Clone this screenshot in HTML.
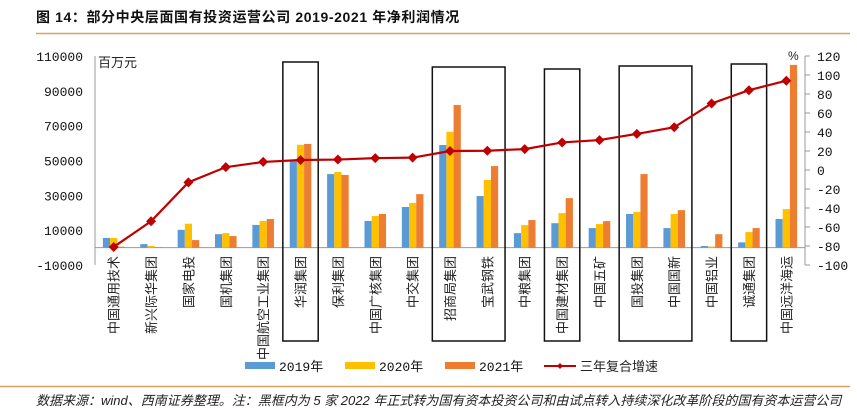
<!DOCTYPE html>
<html><head><meta charset="utf-8"><style>
body{margin:0;background:#fff;}
svg{display:block;font-family:"Liberation Mono","Noto Sans CJK SC",monospace;}
.cjk{font-family:"Liberation Sans","Noto Sans CJK SC",sans-serif;}
</style></head><body>
<svg id="chart" width="857" height="414" viewBox="0 0 857 414" xmlns="http://www.w3.org/2000/svg">
<text x="36" y="22" font-size="14" font-weight="bold" class="cjk" fill="#111" letter-spacing="0.6">图 14：部分中央层面国有投资运营公司 2019-2021 年净利润情况</text>
<line x1="36" y1="33.5" x2="850" y2="33.5" stroke="#d9a35f" stroke-width="1.5"/>
<line x1="0" y1="386.5" x2="850" y2="386.5" stroke="#d9a35f" stroke-width="1.5"/>
<text x="36" y="405" font-size="13" font-style="italic" class="cjk" fill="#222">数据来源：wind、西南证券整理。注：黑框内为 5 家 2022 年正式转为国有资本投资公司和由试点转入持续深化改革阶段的国有资本运营公司</text>
<g id="axes"></g>
<g id="bars"></g>
<g id="boxes"></g>
<g id="line"></g>
<g id="legend"></g>
</svg>
<script>
const categories=["中国通用技术","新兴际华集团","国家电投","国机集团","中国航空工业集团","华润集团","保利集团","中国广核集团","中交集团","招商局集团","宝武钢铁","中粮集团","中国建材集团","中国五矿","国投集团","中国国新","中国铝业","诚通集团","中国远洋海运"];
const profit2019=[5500,2000,10200,7700,13000,50300,42200,15300,23300,58900,29600,8300,14000,11200,19300,11200,900,3000,16400];
const profit2020=[5500,1000,13700,8300,15300,59000,43400,18100,25600,66500,38800,12900,19800,13500,20400,19300,600,8900,22100];
const profit2021=[500,200,4300,6600,16400,59500,41700,19300,30700,81900,46800,15800,28400,15200,42200,21500,7700,11200,104900];
const cagr=[-81,-54,-13,3,8.5,10.5,11,12.5,13,20,20.3,22,29,31.5,38,45,70,84,94];
const leftTicks=[110000,90000,70000,50000,30000,10000,-10000];
const rightTicks=[120,100,80,60,40,20,0,-20,-40,-60,-80,-100];
const boxedGroups=[[5,5],[9,10],[12,12],[14,15],[17,17]];
const boxTops=[62,67,69,66,64];

const NS="http://www.w3.org/2000/svg";
const X0=95,X1=805,Ytop=56,Ybot=265;
const bw=(X1-X0)/categories.length;
function xc(i){return X0+bw*(i+0.5);}
function yL(v){return Ybot-(v+10000)/120000*(Ybot-Ytop);}
function yR(v){return Ybot-(v+100)/220*(Ybot-Ytop);}
function mk(tag,attrs,parent){const e=document.createElementNS(NS,tag);for(const k in attrs)e.setAttribute(k,attrs[k]);parent.appendChild(e);return e;}
const axes=document.getElementById('axes');
let e;
e=mk('line',{x1:X0,y1:Ytop,x2:X0,y2:Ybot,stroke:'#999'},axes);


e=mk('line',{x1:X1,y1:Ytop,x2:X1,y2:Ybot,stroke:'#999'},axes);


e=mk('line',{x1:X0,y1:yL(0),x2:X1,y2:yL(0),stroke:'#999'},axes);


leftTicks.forEach(t=>{
  const tx=mk('text',{x:83,y:yL(t)+5,'font-size':13,'text-anchor':'end',fill:'#111'},axes);
  tx.textContent=t;
  
  
});
rightTicks.forEach(t=>{
  const l=mk('line',{x1:X1,y1:yR(t),x2:X1+5,y2:yR(t),stroke:'#999'},axes);
  
  
  const tx=mk('text',{x:817,y:yR(t)+5,'font-size':13,fill:'#111'},axes);
  tx.textContent=t;
  
  
});
e=mk('text',{x:98,y:67,'font-size':13,fill:'#222',class:'cjk'},axes);
e.textContent='百万元';


e=mk('text',{x:788,y:60,'font-size':12,fill:'#222',class:'cjk'},axes);
e.textContent='%';


categories.forEach((c,i)=>{
  const tx=mk('text',{x:0,y:0,'font-size':13,'text-anchor':'end',fill:'#222',class:'cjk',transform:`translate(${xc(i)+5},256) rotate(-90)`},axes);
  tx.textContent=c;
  
  
});
const bars=document.getElementById('bars');
const series=[[profit2019,'#5b9bd5'],[profit2020,'#ffc000'],[profit2021,'#ed7d31']];
series.forEach((s,si)=>{
  s[0].forEach((v,i)=>{
    const w=7.2, x=xc(i)-w*1.5+si*w;
    const y0=yL(0), y1=yL(v);
    const r=mk('rect',{x:x,y:Math.min(y0,y1),width:w,height:Math.abs(y1-y0),fill:s[1]},bars);
    
    
  });
});
const boxes=document.getElementById('boxes');
boxedGroups.forEach((g,k)=>{
  const x=X0+bw*g[0]+1, w=bw*(g[1]-g[0]+1)-2;
  const r=mk('rect',{x:x,y:boxTops[k],width:w,height:341-boxTops[k],fill:'none',stroke:'#111','stroke-width':1.5},boxes);
  
  
});
const lg=document.getElementById('line');
const pl=mk('polyline',{points:cagr.map((v,i)=>xc(i)+','+yR(v)).join(' '),fill:'none',stroke:'#c00000','stroke-width':2.2},lg);


cagr.forEach((v,i)=>{
  const x=xc(i),y=yR(v);
  const d=mk('polygon',{points:`${x},${y-5} ${x+5},${y} ${x},${y+5} ${x-5},${y}`,fill:'#c00000'},lg);
  
  
});
const leg=document.getElementById('legend');
[['2019年','#5b9bd5',245],['2020年','#ffc000',345],['2021年','#ed7d31',445]].forEach(a=>{
  const r=mk('rect',{x:a[2],y:362,width:30,height:7,fill:a[1]},leg);
  
  
  const t=mk('text',{x:a[2]+34,y:371,'font-size':13,fill:'#111'},leg);
  t.textContent=a[0];
  
  
});
e=mk('line',{x1:544,y1:366,x2:576,y2:366,stroke:'#c00000','stroke-width':2},leg);


e=mk('polygon',{points:'560,363 563,366 560,369 557,366',fill:'#c00000'},leg);


e=mk('text',{x:580,y:371,'font-size':13,fill:'#222',class:'cjk'},leg);
e.textContent='三年复合增速';


</script>
</body></html>
